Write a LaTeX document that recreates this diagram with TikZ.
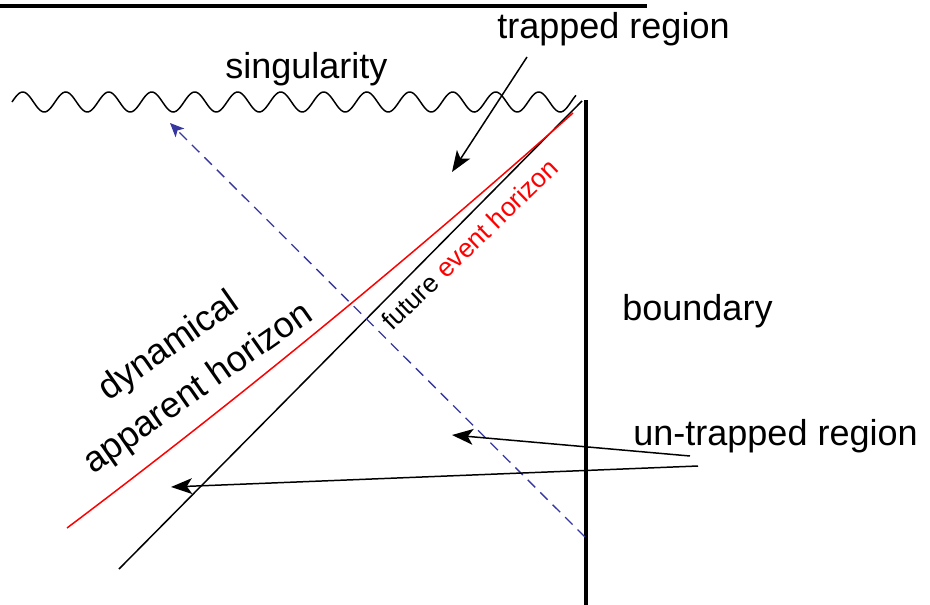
\documentclass[tikz,border=0pt]{standalone}
\usepackage{fontspec}
\setmainfont{Liberation Sans}
\usepackage{xcolor}
\usepackage{tikz}
\usetikzlibrary{arrows.meta, positioning, calc}

\definecolor{raynavy}{RGB}{55,55,160}

\begin{document}
\begin{tikzpicture}[
    x=0.02cm, y=-0.02cm,
    txtlabel/.style={inner sep=0pt, font=\fontsize{20.5pt}{29pt}\selectfont},
    smalllabel/.style={inner sep=0pt, font=\fontsize{15pt}{18pt}\selectfont},
    arrow/.style={-{Stealth[length=12pt, width=9pt, inset=3pt]}, line width=0.85pt, black},
    raydash/.style={-{Stealth[length=8pt, width=7pt, inset=2pt]}, dash pattern=on 6pt off 4pt, line width=0.75pt, raynavy},
    horizon/.style={line width=0.85pt, black},
    apparent/.style={line width=0.85pt, red}
]
\useasboundingbox (0,0) rectangle (930,605);

% top rule and singularity
\draw[line width=2.3pt] (0,6) -- (647,6);
\draw[line width=0.85pt] plot[domain=12:576, samples=400, smooth] (\x, {102 - 10*sin(8.3721*(\x-12))});

% boundary
\coordinate (btop) at (586,100);
\coordinate (bbot) at (586,605);
\draw[line width=2pt] (btop) -- (bbot);

% horizons
\coordinate (ehlow) at (119,569);
\coordinate (ehtop) at (582,101);
\draw[horizon] (ehlow) -- (ehtop);
\coordinate (ahlow) at (67,528);
\coordinate (ahtop) at (573,113);
\draw[apparent] (ahlow) .. controls (237,400) and (403,264) .. (ahtop);

% light ray
\coordinate (rayfrom) at (585,537);
\coordinate (rayto) at (170,123);
\draw[raydash] (rayfrom) -- (rayto);

% labels
\node[txtlabel, anchor=base west] (sing) at (225,78) {singularity};
\node[txtlabel, anchor=base west] (trap) at (497,38) {trapped region};
\node[txtlabel, anchor=base west] (bound) at (622,320) {boundary};
\node[txtlabel, anchor=base west] (untrap) at (633,445) {un-trapped region};
\node[txtlabel, align=center, rotate=35] (dah) at (184,368) {dynamical\\apparent horizon};
\node[smalllabel, anchor=base west, rotate=44] (feh) at (392,332) {future \textcolor{red}{event horizon}};

% pointers
\coordinate (trapfrom) at (527,57);
\coordinate (trapto) at (452,172);
\draw[arrow] (trapfrom) -- (trapto);
\coordinate (utfromA) at (690,456);
\coordinate (uttoA) at (452,435);
\draw[arrow] (utfromA) -- (uttoA);
\coordinate (utfromB) at (698,466);
\coordinate (uttoB) at (171,487);
\draw[arrow] (utfromB) -- (uttoB);

\end{tikzpicture}
\end{document}
